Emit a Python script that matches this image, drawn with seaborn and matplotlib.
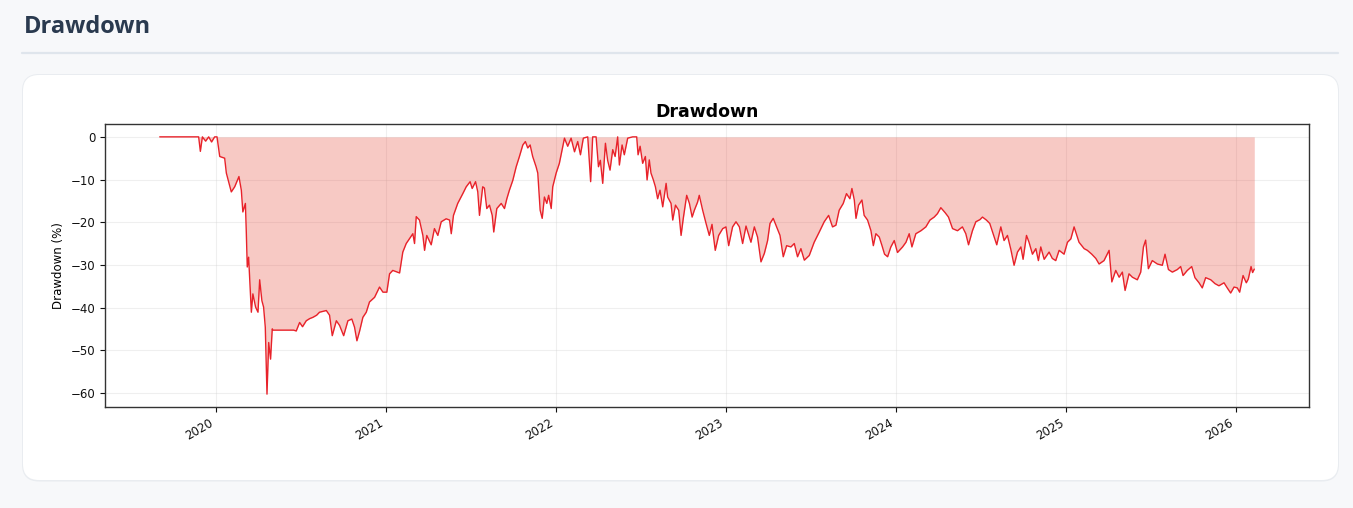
import numpy as np
import pandas as pd
import seaborn as sns
import matplotlib.pyplot as plt
import matplotlib.dates as mdates
from matplotlib.patches import FancyBboxPatch
from matplotlib.lines import Line2D

# decimal year of each reading, and drawdown in %
years = [
    2019.671, 2019.900, 2019.910, 2019.922, 2019.941, 2019.959, 2019.976, 2019.994,
    2020.008, 2020.024, 2020.053, 2020.063, 2020.092, 2020.112, 2020.137, 2020.151,
    2020.160, 2020.175, 2020.180, 2020.186, 2020.194, 2020.210, 2020.219, 2020.235,
    2020.249, 2020.259, 2020.272, 2020.282, 2020.292, 2020.302, 2020.312, 2020.323,
    2020.333, 2020.337, 2020.459, 2020.474, 2020.494, 2020.511, 2020.533, 2020.553,
    2020.572, 2020.594, 2020.611, 2020.651, 2020.670, 2020.686, 2020.710, 2020.729,
    2020.753, 2020.778, 2020.801, 2020.817, 2020.831, 2020.847, 2020.866, 2020.886,
    2020.905, 2020.935, 2020.964, 2020.984, 2021.007, 2021.023, 2021.042, 2021.082,
    2021.101, 2021.121, 2021.140, 2021.160, 2021.170, 2021.180, 2021.199, 2021.219,
    2021.229, 2021.242, 2021.268, 2021.287, 2021.307, 2021.327, 2021.356, 2021.376,
    2021.386, 2021.399, 2021.424, 2021.454, 2021.474, 2021.497, 2021.509, 2021.529,
    2021.542, 2021.552, 2021.571, 2021.581, 2021.595, 2021.611, 2021.627, 2021.636,
    2021.654, 2021.680, 2021.699, 2021.713, 2021.728, 2021.748, 2021.768, 2021.787,
    2021.807, 2021.822, 2021.836, 2021.850, 2021.865, 2021.885, 2021.895, 2021.909,
    2021.921, 2021.934, 2021.948, 2021.959, 2021.974, 2021.983, 2022.003, 2022.022,
    2022.036, 2022.052, 2022.071, 2022.091, 2022.111, 2022.130, 2022.146, 2022.163,
    2022.189, 2022.206, 2022.218, 2022.238, 2022.252, 2022.263, 2022.277, 2022.293,
    2022.306, 2022.320, 2022.336, 2022.350, 2022.365, 2022.375, 2022.391, 2022.404,
    2022.424, 2022.453, 2022.477, 2022.485, 2022.497, 2022.512, 2022.528, 2022.538,
    2022.551, 2022.561, 2022.575, 2022.587, 2022.600, 2022.614, 2022.630, 2022.650,
    2022.659, 2022.679, 2022.689, 2022.705, 2022.724, 2022.738, 2022.751, 2022.771,
    2022.787, 2022.803, 2022.816, 2022.835, 2022.845, 2022.865, 2022.885, 2022.904,
    2022.920, 2022.939, 2022.959, 2022.983, 2023.002, 2023.018, 2023.041, 2023.061,
    2023.081, 2023.100, 2023.120, 2023.149, 2023.169, 2023.188, 2023.208, 2023.228,
    2023.247, 2023.261, 2023.280, 2023.300, 2023.320, 2023.339, 2023.359, 2023.384,
    2023.404, 2023.423, 2023.443, 2023.463, 2023.492, 2023.521, 2023.551, 2023.580,
    2023.606, 2023.629, 2023.649, 2023.668, 2023.692, 2023.711, 2023.731, 2023.743,
    2023.757, 2023.767, 2023.782, 2023.802, 2023.815, 2023.835, 2023.855, 2023.869,
    2023.884, 2023.904, 2023.920, 2023.935, 2023.953, 2023.972, 2023.992, 2024.011,
    2024.041, 2024.061, 2024.080, 2024.096, 2024.119, 2024.149, 2024.178, 2024.202,
    2024.227, 2024.246, 2024.266, 2024.292, 2024.311, 2024.335, 2024.364, 2024.393,
    2024.413, 2024.429, 2024.452, 2024.472, 2024.496, 2024.511, 2024.534, 2024.554,
    2024.574, 2024.595, 2024.619, 2024.638, 2024.658, 2024.678, 2024.697, 2024.717,
    2024.737, 2024.750, 2024.770, 2024.785, 2024.805, 2024.825, 2024.840, 2024.854,
    2024.874, 2024.903, 2024.922, 2024.942, 2024.962, 2024.991, 2025.011, 2025.031,
    2025.050, 2025.079, 2025.109, 2025.128, 2025.154, 2025.178, 2025.197, 2025.226,
    2025.256, 2025.272, 2025.295, 2025.315, 2025.334, 2025.350, 2025.373, 2025.393,
    2025.422, 2025.442, 2025.458, 2025.471, 2025.487, 2025.510, 2025.540, 2025.569,
    2025.585, 2025.605, 2025.628, 2025.657, 2025.677, 2025.691, 2025.716, 2025.742,
    2025.761, 2025.785, 2025.804, 2025.824, 2025.854, 2025.879, 2025.902, 2025.932,
    2025.951, 2025.971, 2025.991, 2026.010, 2026.024, 2026.044, 2026.063, 2026.075,
    2026.091, 2026.100, 2026.110,
]
drawdown = [
    0.0, 0.0, -3.4, 0.0, -1.0, 0.0, -1.2, 0.0,
    0.0, -4.6, -5.0, -8.5, -12.9, -11.7, -9.3, -12.5,
    -17.6, -15.6, -21.9, -30.5, -28.2, -41.1, -36.8, -39.9,
    -41.1, -33.5, -38.4, -39.9, -44.6, -60.3, -48.2, -52.1,
    -45.0, -45.3, -45.3, -45.5, -43.5, -44.5, -43.1, -42.6,
    -42.3, -41.8, -41.1, -40.7, -41.8, -46.6, -43.1, -44.2,
    -46.6, -43.1, -42.7, -44.6, -47.8, -45.5, -42.3, -41.1,
    -38.7, -37.6, -35.2, -36.4, -36.4, -32.1, -31.3, -31.9,
    -27.0, -25.0, -23.9, -22.7, -25.0, -18.7, -19.5, -23.1,
    -26.6, -23.1, -25.3, -21.5, -23.1, -19.9, -19.2, -19.5,
    -22.7, -18.4, -15.6, -13.3, -11.7, -10.5, -12.1, -10.5,
    -12.9, -18.4, -11.7, -12.0, -16.8, -16.0, -18.4, -22.3,
    -16.8, -15.6, -16.8, -14.5, -12.5, -10.2, -7.0, -4.6,
    -1.9, -1.1, -2.6, -1.9, -4.6, -7.0, -8.5, -17.2,
    -19.1, -14.1, -15.6, -13.7, -16.8, -11.7, -8.5, -6.2,
    -3.5, -0.3, -2.2, -0.3, -3.5, -1.1, -4.2, -0.3,
    0.0, -10.5, 0.0, 0.0, -7.0, -5.5, -10.9, -1.5,
    -5.5, -7.8, -3.0, -4.6, 0.0, -6.6, -1.9, -4.2,
    -0.3, 0.0, 0.0, -4.2, -2.2, -6.2, -4.6, -10.1,
    -5.4, -8.5, -10.1, -11.7, -14.5, -12.5, -16.4, -10.9,
    -14.1, -15.6, -19.5, -16.0, -17.2, -23.1, -19.1, -13.7,
    -15.6, -18.8, -17.2, -15.3, -13.7, -17.2, -20.3, -23.1,
    -20.5, -26.6, -23.1, -21.5, -21.1, -25.5, -21.1, -19.9,
    -21.1, -25.0, -20.9, -24.7, -21.1, -23.5, -29.3, -27.3,
    -24.3, -20.3, -19.1, -21.1, -23.1, -28.1, -25.5, -25.8,
    -25.0, -28.1, -26.2, -28.9, -27.8, -24.7, -22.3, -19.9,
    -18.4, -21.1, -20.7, -17.2, -15.6, -13.3, -14.5, -12.1,
    -14.8, -19.1, -16.0, -14.8, -18.4, -19.5, -22.0, -25.5,
    -22.7, -23.5, -25.5, -27.5, -28.1, -25.8, -24.3, -27.1,
    -25.8, -24.7, -22.7, -25.8, -22.7, -22.0, -21.1, -19.5,
    -18.8, -18.0, -16.6, -17.8, -18.8, -21.5, -22.0, -21.1,
    -22.7, -25.3, -22.0, -19.9, -19.4, -18.8, -19.5, -20.3,
    -22.7, -25.3, -21.1, -24.3, -23.1, -26.4, -30.1, -27.0,
    -25.8, -28.7, -23.1, -24.7, -27.5, -26.2, -29.0, -25.8,
    -28.7, -27.0, -28.5, -29.0, -26.6, -27.5, -24.7, -23.9,
    -21.1, -24.7, -26.2, -26.6, -27.5, -28.5, -29.8, -29.0,
    -26.6, -34.0, -31.3, -32.9, -31.7, -36.0, -32.1, -32.9,
    -33.5, -31.7, -25.8, -24.2, -30.9, -29.0, -29.8, -30.1,
    -27.5, -31.1, -31.7, -31.1, -30.4, -32.5, -31.3, -30.4,
    -33.0, -34.2, -35.4, -33.0, -33.5, -34.4, -34.9, -34.2,
    -35.4, -36.6, -35.2, -35.4, -36.4, -32.5, -34.2, -33.3,
    -30.4, -31.8, -31.0,
]

dates = pd.to_datetime("2020-01-01") + pd.to_timedelta((np.array(years) - 2020) * 365.25, unit="D")
df = pd.DataFrame({"date": dates, "drawdown": drawdown})

sns.set_style("ticks")
plt.rcParams["font.family"] = ["DejaVu Sans"]

W, H = 1353, 508
fig = plt.figure(figsize=(W / 100, H / 100), dpi=100, facecolor="#f7f8fa")

# page header + rule
fig.text(24 / W, 1 - 33 / H, "Drawdown", family=["Open Sans", "DejaVu Sans"],
         fontweight="bold", fontsize=17, color="#2a3a4f", va="baseline")
fig.add_artist(Line2D([22 / W, 1338 / W], [1 - 53 / H, 1 - 53 / H], transform=fig.transFigure,
                      color="#dfe5ec", lw=1.6))

# white card
shadow = FancyBboxPatch((22, H - 481.5), 1317, 407.5, boxstyle="round,pad=0,rounding_size=17",
                        transform=None, facecolor="#e9ecf0", edgecolor="none", zorder=-2)
card = FancyBboxPatch((23, H - 480), 1315, 405, boxstyle="round,pad=0,rounding_size=16",
                      transform=None, facecolor="white", edgecolor="none", zorder=-1)
fig.add_artist(shadow)
fig.add_artist(card)

ax = fig.add_axes([105 / W, 101 / H, 1204 / W, 283 / H])
ax.fill_between(df["date"], df["drawdown"], 0, color="#e74c3c", alpha=0.3, linewidth=0)
sns.lineplot(data=df, x="date", y="drawdown", color="#e8222a", linewidth=1, ax=ax)

ax.grid(True, alpha=0.3)
ax.set_title("Drawdown", fontsize=12.5, fontweight="bold", pad=5, color="black")
ax.set_ylabel("Drawdown (%)", fontsize=8.5, color="black")
ax.set_xlabel("")
ax.xaxis.set_major_locator(mdates.YearLocator())
ax.xaxis.set_major_formatter(mdates.DateFormatter("%Y"))
ax.tick_params(labelsize=8.5, colors="#111111")
for lbl in ax.get_xticklabels():
    lbl.set_rotation(30)
    lbl.set_ha("right")
for s in ax.spines.values():
    s.set_color("#333333")
    s.set_linewidth(1)

fig.savefig("out.png", dpi=100, facecolor=fig.get_facecolor())
